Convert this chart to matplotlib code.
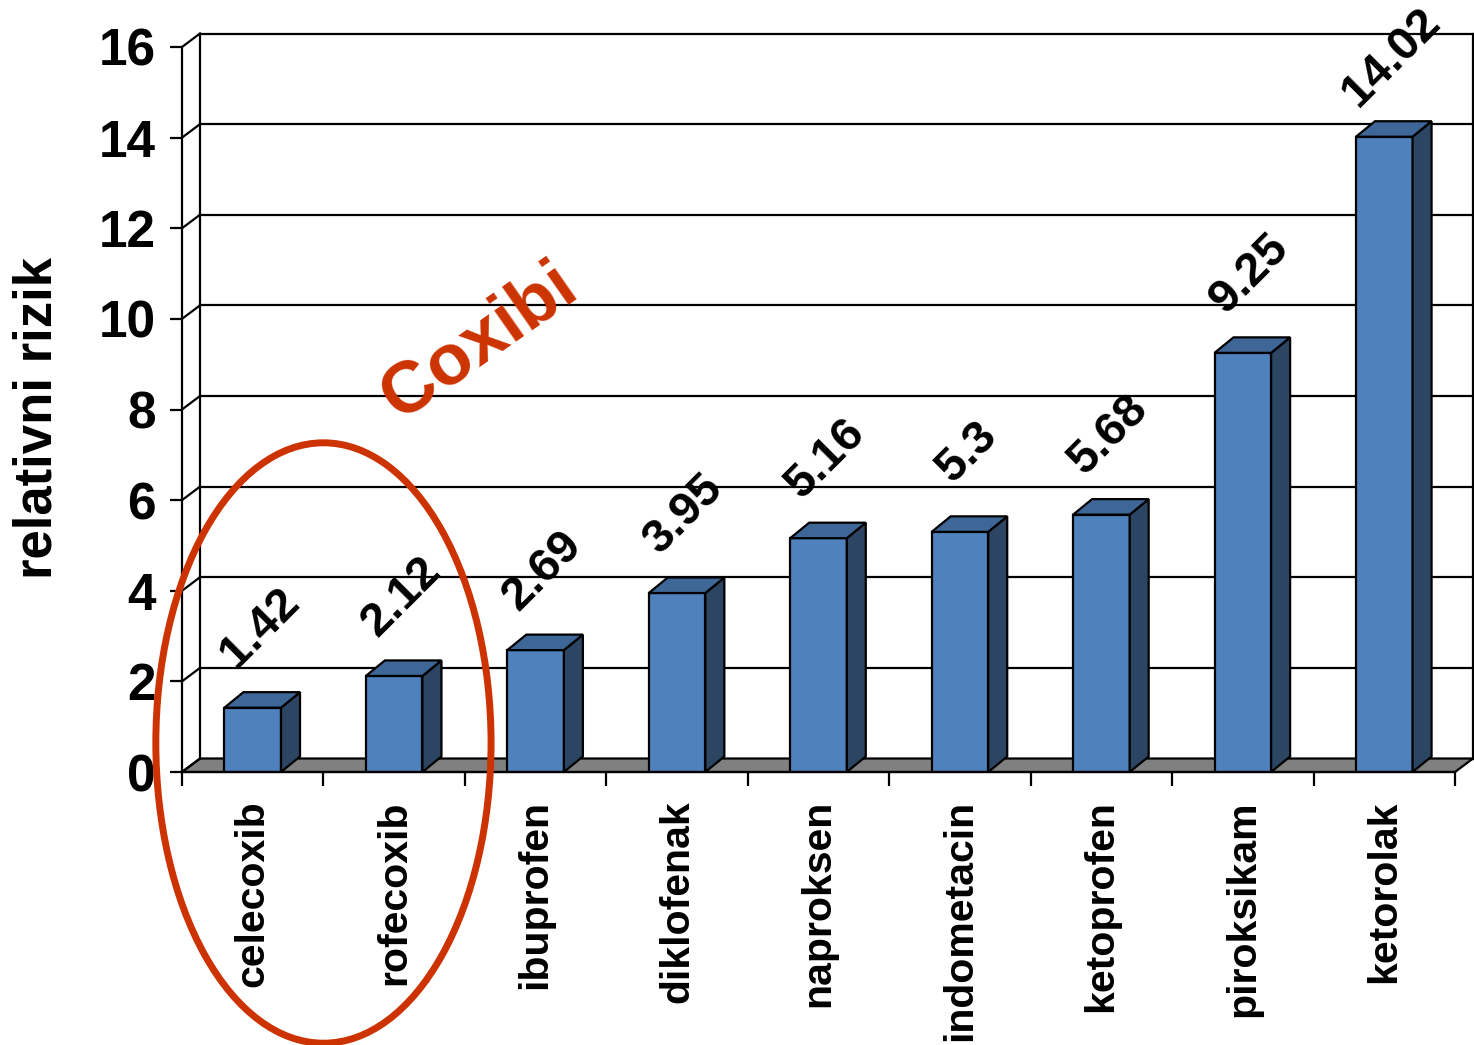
import matplotlib
matplotlib.use("Agg")
import matplotlib.pyplot as plt
from matplotlib.patches import Polygon, Ellipse
import numpy as np

plt.rcParams['font.family'] = ['Liberation Sans', 'DejaVu Sans']
plt.rcParams['font.weight'] = 'bold'

# relative risk per NSAID
lijekovi = ['celecoxib', 'rofecoxib', 'ibuprofen', 'diklofenak', 'naproksen',
            'indometacin', 'ketoprofen', 'piroksikam', 'ketorolak']
rizik = [1.42, 2.12, 2.69, 3.95, 5.16, 5.3, 5.68, 9.25, 14.02]
oznake = ['1.42', '2.12', '2.69', '3.95', '5.16', '5.3', '5.68', '9.25', '14.02']
y_ticks = [0, 2, 4, 6, 8, 10, 12, 14, 16]
coxibi = [0, 1]   # indices of the coxib group

W, H = 1474, 1045
fig = plt.figure(figsize=(W / 100, H / 100), dpi=100)
# axes = front plane of the 3d box
ax = fig.add_axes([182 / W, 1 - 772 / H, (1455 - 182) / W, (772 - 47) / H])
ax.set_xlim(-0.5, len(rizik) - 0.5)
ax.set_ylim(0, 16)

# pixel -> data scale for the depth offsets
px_x = (len(rizik)) / (1455 - 182)
px_y = 16 / (772 - 47)
wdx, wdy = 18 * px_x, 13.5 * px_y     # wall depth
bdx, bdy = 19 * px_x, 15.5 * px_y     # bar depth
x0, x1 = -0.5, len(rizik) - 0.5
lw = 1.6

# floor
ax.add_patch(Polygon([(x0, 0), (x1, 0), (x1 + wdx, wdy), (x0 + wdx, wdy)],
                     closed=True, facecolor='#808080', edgecolor='black',
                     lw=lw, clip_on=False, zorder=1))

# back wall gridlines + side wall diagonals
for t in y_ticks:
    if t > 0:
        ax.plot([x0 + wdx, x1 + wdx], [t + wdy, t + wdy], color='black', lw=lw,
                clip_on=False, zorder=1)
    ax.plot([x0, x0 + wdx], [t, t + wdy], color='black', lw=lw,
            clip_on=False, zorder=1)
ax.plot([x0 + wdx, x0 + wdx], [wdy, 16 + wdy], color='black', lw=lw, clip_on=False, zorder=1)
ax.plot([x1 + wdx, x1 + wdx], [wdy, 16 + wdy], color='black', lw=lw, clip_on=False, zorder=1)
ax.plot([x0, x0], [0, 16], color='black', lw=lw, clip_on=False, zorder=5)
ax.plot([x0, x1], [0, 0], color='black', lw=lw, clip_on=False, zorder=5)

# bars
bw = 0.4
xs = np.arange(len(rizik))
ax.bar(xs, rizik, width=bw, color='#4F81BD', edgecolor='black', lw=lw, zorder=3)
for x, v in zip(xs, rizik):
    r = x + bw / 2
    l = x - bw / 2
    ax.add_patch(Polygon([(r, 0), (r + bdx, bdy), (r + bdx, v + bdy), (r, v)],
                         closed=True, facecolor='#2C4563', edgecolor='black',
                         lw=lw, zorder=3, clip_on=False))
    ax.add_patch(Polygon([(l, v), (r, v), (r + bdx, v + bdy), (l + bdx, v + bdy)],
                         closed=True, facecolor='#3E6697', edgecolor='black',
                         lw=lw, zorder=3, clip_on=False))

# value labels
for x, v, s in zip(xs, rizik, oznake):
    ax.text(x + 0.05, v + 1.75, s, rotation=45, rotation_mode='anchor',
            ha='center', va='center', fontsize=34, fontweight='bold', zorder=6)

# axes styling
for sp in ax.spines.values():
    sp.set_visible(False)
ax.set_yticks(y_ticks)
ax.set_yticklabels([str(t) for t in y_ticks], fontsize=37, fontweight='bold')
ax.tick_params(axis='y', length=9, width=lw, pad=10)
ax.set_xticks(np.arange(len(rizik) + 1) - 0.5)
ax.set_xticklabels([])
ax.tick_params(axis='x', length=10, width=lw)
for x, name in zip(xs, lijekovi):
    ax.text(x, -0.62, name, rotation=90, ha='center', va='top',
            fontsize=29.5, fontweight='bold', clip_on=False)

fig.text(38 / W, 1 - 418 / H, 'relativni rizik', rotation=90, ha='center',
         va='center', fontsize=38, fontweight='bold')

# coxib group highlight
cx = np.mean(coxibi)
ax.add_patch(Ellipse((cx, 0.64), 2.37, 13.25, fill=False, edgecolor='#CC3300',
                     lw=5, clip_on=False, zorder=7))
ax.text(cx + 1.1, 9.5, 'Coxibi', rotation=35, rotation_mode='anchor',
        ha='center', va='center', fontsize=52, fontweight='bold',
        color='#CC3300', zorder=7)

fig.savefig('out.png', dpi=100)
